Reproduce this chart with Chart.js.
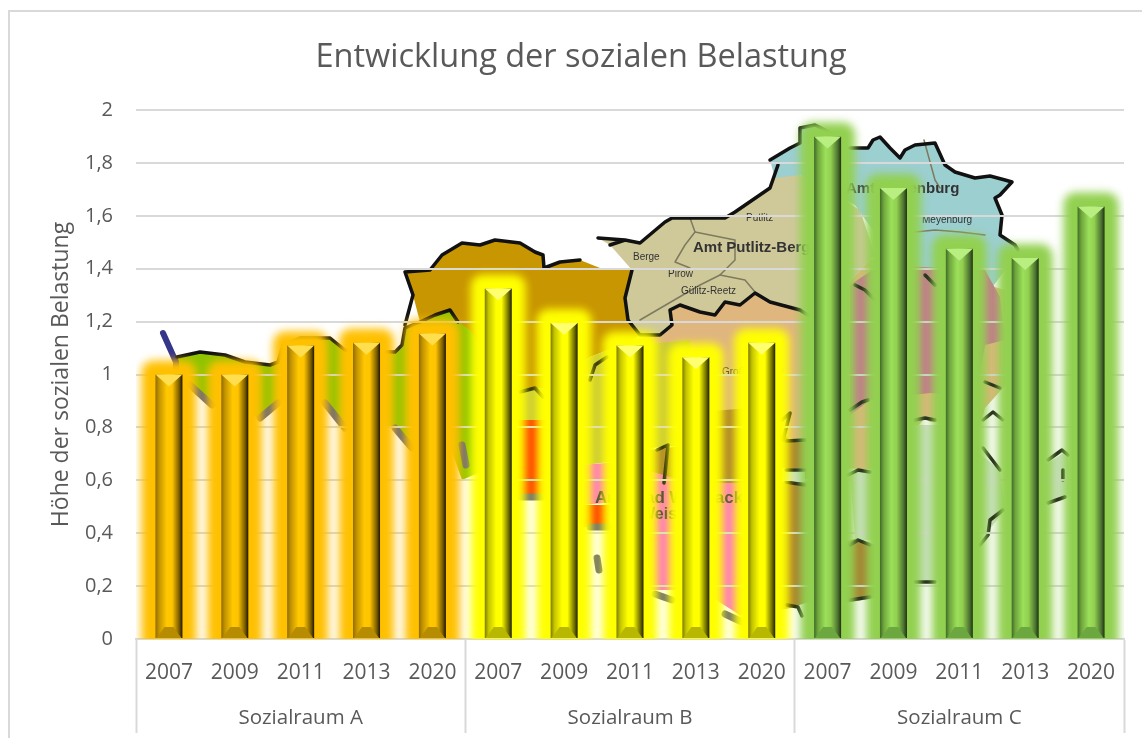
<!DOCTYPE html>
<html>
<head>
<meta charset="utf-8">
<title>Entwicklung der sozialen Belastung</title>
<script src="https://cdn.jsdelivr.net/npm/chart.js@4/dist/chart.umd.js"></script>
<style>
    body { margin: 0; background: #fff; }
    canvas { display: block; }
</style>
</head>
<body>
<canvas id="chart" width="1142" height="738"></canvas>
<script>
// data
var years = ['2007', '2009', '2011', '2013', '2020'];
var groups = ['Sozialraum A', 'Sozialraum B', 'Sozialraum C'];
var valuesA = [1.0, 1.0, 1.11, 1.12, 1.155];
var valuesB = [1.325, 1.195, 1.11, 1.065, 1.12];
var valuesC = [1.9, 1.705, 1.475, 1.44, 1.635];
var yLabels = ['0', '0,2', '0,4', '0,6', '0,8', '1', '1,2', '1,4', '1,6', '1,8', '2'];

var labels = years.concat(years, years);
var values = valuesA.concat(valuesB, valuesC);

var TEXT = '#595959';
var LINE = '#D9D9D9';
var FONT = '"Open Sans", sans-serif';

var glowColors = ['#FFC000', '#FFFF00', '#92D050'];
var barStops = [
    ['#8f6c00', '#c49400', '#ffc800', '#ffc400', '#7a5c00', '#1c1500'],
    ['#7c7c00', '#c4c400', '#ffff00', '#ffff00', '#6f6f00', '#1e1e00'],
    ['#3f6b28', '#6fa63c', '#9be05a', '#92d050', '#4b7230', '#1f3012']
];
var capColors = ['#ffdf50', '#ffff70', '#b9ee80'];
var footColors = ['#b88c00', '#b8b800', '#6ca83f'];

// background map of the district, it is only decoration behind the bars
var mapRegions = [
    ['#8FC400', [[177,357],[200,352],[225,355],[245,362],[270,365],[278,362],[283,345],[300,338],[330,338],[345,350],[395,352],[402,345],[405,328],[420,322],[435,315],[450,310],[458,322],[480,330],[485,470],[462,480],[448,440],[412,448],[395,428],[345,428],[325,403],[278,403],[260,418],[212,405],[190,385],[177,385]]],
    ['#C89600', [[405,272],[430,270],[442,255],[462,243],[480,245],[495,240],[520,243],[535,252],[543,255],[544,268],[560,262],[580,260],[600,268],[632,270],[625,298],[628,320],[640,335],[625,345],[608,350],[590,357],[545,388],[510,392],[470,330],[458,322],[450,310],[435,315],[420,322],[413,295]]],
    ['#E0B67F', [[672,325],[670,310],[680,305],[700,312],[715,315],[725,302],[740,305],[755,293],[770,302],[800,310],[815,318],[870,260],[900,260],[1005,290],[1010,380],[985,408],[980,425],[930,422],[925,418],[880,470],[840,468],[810,440],[640,430],[625,345]]],
    ['#CFC99A', [[598,238],[625,240],[640,243],[665,222],[672,218],[700,218],[725,218],[735,212],[770,188],[778,165],[800,175],[860,210],[875,255],[815,318],[800,310],[770,302],[755,293],[740,305],[725,302],[715,315],[700,312],[680,305],[670,310],[672,325],[660,335],[640,335],[628,320],[625,298],[632,270],[610,245]]],
    ['#9CCFD0', [[770,160],[790,148],[800,143],[800,128],[815,125],[835,135],[850,148],[868,148],[873,140],[880,137],[890,148],[900,158],[905,150],[915,145],[935,143],[945,165],[955,172],[975,178],[990,176],[1005,180],[1012,182],[1000,195],[995,198],[1002,215],[1000,235],[1015,245],[1018,250],[1005,270],[985,297],[930,285],[925,272],[880,240],[855,205],[800,175],[775,178]]],
    ['#C87490', [[850,285],[880,265],[985,270],[1000,297],[1005,340],[985,345],[975,396],[930,393],[870,400],[850,415]]],
    ['#A87B30', [[700,483],[700,412],[750,408],[790,440],[815,440],[815,535],[845,542],[858,538],[875,545],[875,598],[850,602],[815,600],[790,608],[770,612],[770,483]]],
    ['#A87B30', [[650,450],[690,445],[690,483],[650,483]]],
    ['#C9C83C', [[510,392],[545,388],[590,357],[608,350],[640,345],[690,340],[690,445],[650,448],[625,460],[585,465],[560,420],[510,420]]],
    ['#FF3300', [[510,420],[560,420],[560,497],[510,497]]],
    ['#FF70D0', [[580,465],[620,462],[690,483],[770,483],[770,605],[740,615],[700,590],[650,590],[640,500],[580,505]]],
    ['#FF3300', [[580,505],[610,505],[610,527],[580,527]]],
    ['#CCE2C4', [[850,472],[875,470],[875,540],[855,540]]],
    ['#CCE2C4', [[905,425],[945,425],[945,582],[905,582]]],
    ['#CCE2C4', [[975,450],[1000,470],[1005,510],[985,535],[975,520]]],
    ['#CCE2C4', [[1045,465],[1068,450],[1070,497],[1045,503]]],
    ['#CCE2C4', [[782,468],[805,468],[805,482],[782,482]]]
];
var mapBorders = [
    [[177,357],[200,352],[225,355],[245,362],[270,365],[278,362],[283,345],[300,338],[330,338],[345,350],[395,352],[402,345],[405,328],[420,322],[435,315],[450,310],[458,322]],
    [[405,325],[413,295],[405,272],[430,270],[442,255],[462,243],[480,245],[495,240],[520,243],[535,252],[543,255],[544,268],[560,262],[580,260]],
    [[632,270],[625,298],[628,320],[640,335],[660,335],[672,325],[670,310],[680,305],[700,312],[715,315],[725,302],[740,305],[755,293],[770,302],[800,310],[808,315]],
    [[598,238],[625,240],[610,245],[625,240],[640,243],[665,222],[672,218],[700,218],[725,218],[735,212],[770,188],[778,165]],
    [[770,160],[790,148],[800,143],[800,128],[815,125],[835,135]],
    [[850,148],[868,148],[873,140],[880,137],[890,148],[900,158],[905,150],[915,145],[935,143],[945,165],[955,172],[975,178],[990,176],[1005,180],[1012,182],[1000,195],[995,198],[1002,215],[1000,235],[1015,245],[1018,250]],
    [[520,392],[535,388],[543,397]], [[590,380],[595,365],[607,357]], [[657,450],[668,445],[664,483]],
    [[782,420],[790,413],[783,440]], [[786,441],[805,440]], [[786,470],[805,470]], [[786,482],[805,485]], [[787,605],[798,607],[802,616]],
    [[850,410],[862,402],[868,400]], [[848,475],[858,470],[870,472]], [[850,545],[858,540],[870,545]], [[850,600],[870,597]],
    [[855,285],[865,290],[875,300]], [[915,420],[925,418],[935,420]], [[915,582],[935,582]], [[925,275],[935,285]],
    [[985,382],[1000,388]], [[983,420],[993,412],[1003,420]], [[983,448],[1000,470]], [[1003,510],[990,520],[988,535],[980,545]],
    [[1048,460],[1062,450],[1068,455]], [[1063,470],[1063,480]], [[1048,503],[1065,497]]
];
var mapGreyBorders = [
    [[190,385],[212,405]], [[260,418],[278,403]], [[325,403],[345,428]], [[395,428],[412,448]],
    [[462,445],[466,465]], [[520,497],[545,497]], [[590,527],[610,527]], [[597,558],[599,570]],
    [[655,594],[672,600]], [[725,614],[742,622]]
];
var mapLines = [
    [[690,218],[695,232],[685,245],[675,262],[690,268]], [[695,232],[735,240],[735,260],[720,275],[700,285],[640,320]],
    [[720,275],[745,280],[755,292]], [[924,140],[935,180],[940,188]], [[915,232],[935,230],[960,232],[985,235]]
];
var mapTexts = [
    ['bold 15px "Liberation Sans"', 'Amt Putlitz-Berge', 693, 252],
    ['bold 15px "Liberation Sans"', 'Amt Meyenburg', 846, 193],
    ['bold 17px "Liberation Sans"', 'Amt Bad Wilsnack', 595, 503],
    ['bold 16px "Liberation Sans"', 'Weisen', 640, 519],
    ['10px "Liberation Sans"', 'Berge', 633, 260],
    ['10px "Liberation Sans"', 'Pirow', 668, 277],
    ['10px "Liberation Sans"', 'Gülitz-Reetz', 681, 294],
    ['10px "Liberation Sans"', 'Putlitz', 746, 221],
    ['10px "Liberation Sans"', 'Meyenburg', 922, 223],
    ['10px "Liberation Sans"', 'Groß Pankow', 722, 375]
];

function polyPath(ctx, pts) {
    ctx.beginPath();
    ctx.moveTo(pts[0][0], pts[0][1]);
    for (var i = 1; i < pts.length; i++) ctx.lineTo(pts[i][0], pts[i][1]);
}

function strokeAll(ctx, list, color, width) {
    ctx.strokeStyle = color;
    ctx.lineWidth = width;
    for (var i = 0; i < list.length; i++) {
        polyPath(ctx, list[i]);
        ctx.stroke();
    }
}

function groupOf(index) {
    return Math.floor(index / years.length);
}

function barGradient(c) {
    var chart = c.chart;
    var g = groupOf(c.dataIndex);
    var x = chart.scales.x;
    if (!chart.chartArea || !x.width) return glowColors[g];
    var half = x.width / labels.length * 0.41 / 2;
    var mid = x.getPixelForValue(c.dataIndex);
    var grad = chart.ctx.createLinearGradient(mid - half, 0, mid + half, 0);
    var offs = [0, 0.14, 0.42, 0.62, 0.88, 1];
    for (var i = 0; i < offs.length; i++) grad.addColorStop(offs[i], barStops[g][i]);
    return grad;
}

var backgroundPlugin = {
    id: 'background',
    beforeDraw: function(chart) {
        var ctx = chart.ctx;
        ctx.save();
        ctx.fillStyle = '#fff';
        ctx.fillRect(0, 0, chart.width, chart.height);
        // outer frame, open at the bottom and to the right
        ctx.strokeStyle = LINE;
        ctx.lineWidth = 2;
        ctx.beginPath();
        ctx.moveTo(9, chart.height);
        ctx.lineTo(9, 11);
        ctx.lineTo(chart.width, 11);
        ctx.stroke();

        ctx.filter = 'blur(0.7px)';
        ctx.lineCap = 'round';
        ctx.lineJoin = 'round';
        mapRegions.forEach(function(r) {
            ctx.fillStyle = r[0];
            polyPath(ctx, r[1]);
            ctx.closePath();
            ctx.fill();
        });
        strokeAll(ctx, mapLines, '#7d7a5e', 1.5);
        strokeAll(ctx, mapGreyBorders, '#66667A', 7);
        strokeAll(ctx, [[[163,333],[176,362],[176,380]]], '#35358a', 6);
        strokeAll(ctx, mapBorders, '#111', 3.5);
        ctx.fillStyle = '#333';
        ctx.textBaseline = 'alphabetic';
        mapTexts.forEach(function(t) {
            ctx.font = t[0];
            ctx.fillText(t[1], t[2], t[3]);
        });
        ctx.restore();
    }
};

var glowPlugin = {
    id: 'glow',
    beforeDatasetsDraw: function(chart) {
        var ctx = chart.ctx;
        var area = chart.chartArea;
        var bars = chart.getDatasetMeta(0).data;
        ctx.save();
        ctx.beginPath();
        ctx.rect(area.left, 0, area.right - area.left, area.bottom);
        ctx.clip();
        ctx.filter = 'blur(4px)';
        for (var i = 0; i < bars.length; i++) {
            var b = bars[i];
            var half = b.width / 2 + 14;
            ctx.fillStyle = glowColors[groupOf(i)];
            ctx.beginPath();
            ctx.roundRect(b.x - half, b.y - 14, half * 2, b.base - b.y + 30, 12);
            ctx.fill();
        }
        ctx.restore();
    },
    afterDatasetsDraw: function(chart) {
        // bevel at the top and foot of each bar
        var ctx = chart.ctx;
        var bars = chart.getDatasetMeta(0).data;
        ctx.save();
        for (var i = 0; i < bars.length; i++) {
            var b = bars[i];
            var half = b.width / 2;
            ctx.fillStyle = capColors[groupOf(i)];
            polyPath(ctx, [[b.x - half, b.y], [b.x + half, b.y], [b.x, b.y + 12]]);
            ctx.closePath();
            ctx.fill();
            ctx.fillStyle = footColors[groupOf(i)];
            polyPath(ctx, [[b.x - half + 1, b.base], [b.x + half - 1, b.base], [b.x + half - 9, b.base - 11], [b.x - half + 9, b.base - 11]]);
            ctx.closePath();
            ctx.fill();
        }
        ctx.restore();
    }
};

new Chart(document.getElementById('chart'), {
    type: 'bar',
    data: {
        labels: labels,
        datasets: [{
            data: values,
            backgroundColor: barGradient,
            borderWidth: 0,
            categoryPercentage: 1,
            barPercentage: 0.41
        }]
    },
    options: {
        responsive: false,
        animation: false,
        layout: { padding: { left: 38, right: 18, top: 38, bottom: 0 } },
        plugins: {
            legend: { display: false },
            tooltip: { enabled: false },
            title: {
                display: true,
                text: 'Entwicklung der sozialen Belastung',
                color: TEXT,
                font: { family: FONT, size: 32.5, weight: 'normal' },
                padding: { top: 0, bottom: 33 }
            }
        },
        scales: {
            x: {
                type: 'category',
                border: { color: LINE, width: 2 },
                grid: {
                    offset: true,
                    drawOnChartArea: false,
                    tickLength: 94,
                    tickWidth: 2,
                    tickColor: function(c) {
                        return (c.index === undefined || c.index % years.length === 0) ? LINE : 'transparent';
                    }
                },
                ticks: {
                    color: TEXT,
                    padding: -73,
                    maxRotation: 0,
                    autoSkip: false,
                    font: { family: FONT, size: 21 }
                },
                afterFit: function(s) { s.height = 57; }
            },
            x2: {
                type: 'category',
                position: 'bottom',
                labels: groups,
                border: { display: false },
                grid: { display: false },
                ticks: {
                    color: TEXT,
                    padding: 2,
                    maxRotation: 0,
                    font: { family: FONT, size: 20.5 }
                },
                afterFit: function(s) { s.height = 42; }
            },
            y: {
                min: 0,
                max: 2,
                border: { display: false },
                grid: { color: LINE, lineWidth: 2, drawTicks: false },
                ticks: {
                    stepSize: 0.2,
                    color: TEXT,
                    padding: 23,
                    font: { family: FONT, size: 20 },
                    callback: function(v, i) { return yLabels[i]; }
                },
                title: {
                    display: true,
                    text: 'Höhe der sozialen Belastung',
                    color: TEXT,
                    font: { family: FONT, size: 23, weight: 'normal' },
                    padding: { top: 10, bottom: 0 }
                },
                afterFit: function(s) { s.width = 98; }
            }
        }
    },
    plugins: [backgroundPlugin, glowPlugin]
});
</script>
</body>
</html>
